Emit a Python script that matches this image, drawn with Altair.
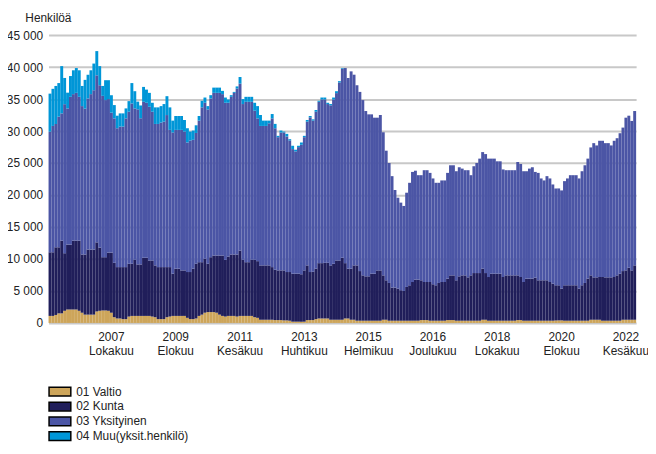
import altair as alt
import pandas as pd

MONTH_NAMES = ["Tammikuu", "Helmikuu", "Maaliskuu", "Huhtikuu", "Toukokuu", "Kesäkuu",
               "Heinäkuu", "Elokuu", "Syyskuu", "Lokakuu", "Marraskuu", "Joulukuu"]
START_YEAR = 2006
N_MONTHS = 201
months = [f"{START_YEAR + k // 12}|{MONTH_NAMES[k % 12]}" for k in range(N_MONTHS)]
label_months = ["2007|Lokakuu", "2009|Elokuu", "2011|Kesäkuu", "2013|Huhtikuu", "2015|Helmikuu",
                "2016|Joulukuu", "2018|Lokakuu", "2020|Elokuu", "2022|Kesäkuu"]

series_names = ["01 Valtio", "02 Kunta", "03 Yksityinen", "04 Muu(yksit.henkilö)"]
series_colors = ["#CDA55A", "#201E5A", "#4B55A5", "#0096D7"]

valtio = [
    1100, 1100, 1250, 1500, 1500, 1900, 2100, 2100, 2100, 2100,
    1900, 1600, 1300, 1300, 1300, 1300, 1800, 1900, 1950, 1950,
    1900, 1600, 900, 700, 700, 600, 600, 1000, 1100, 1100,
    1100, 1100, 1100, 1100, 1100, 1000, 900, 600, 600, 600,
    900, 1000, 1100, 1100, 1100, 1100, 1100, 800, 600, 600,
    700, 1100, 1300, 1600, 1700, 1700, 1700, 1600, 1300, 1100,
    1000, 1100, 1100, 1100, 1000, 1100, 1100, 1100, 1100, 1100,
    900, 800, 500, 500, 500, 500, 500, 450, 450, 450,
    400, 400, 350, 200, 200, 200, 200, 200, 450, 450,
    450, 600, 700, 700, 700, 700, 500, 500, 500, 500,
    500, 700, 700, 500, 500, 350, 350, 350, 350, 350,
    350, 350, 350, 350, 500, 500, 350, 350, 350, 350,
    350, 350, 350, 350, 350, 350, 350, 450, 450, 450,
    350, 350, 350, 350, 350, 350, 450, 450, 450, 350,
    350, 350, 350, 350, 350, 350, 350, 350, 500, 500,
    350, 350, 350, 350, 350, 350, 350, 350, 350, 350,
    450, 450, 350, 350, 350, 350, 350, 350, 350, 350,
    350, 350, 350, 400, 400, 400, 350, 350, 350, 350,
    350, 350, 350, 350, 350, 500, 500, 500, 500, 350,
    350, 350, 350, 350, 350, 350, 500, 500, 500, 500,
    500,
]

kunta = [
    9950, 9950, 10580, 10330, 11370, 9000, 10150, 10150, 10770, 10770,
    10970, 9100, 9400, 10170, 10170, 10170, 10800, 9880, 8330, 8330,
    9100, 9400, 8500, 8030, 8030, 8130, 8130, 8250, 8150, 8770,
    8050, 8050, 9090, 9090, 8670, 8770, 8100, 8130, 8130, 8130,
    7830, 7730, 6600, 7380, 7380, 7120, 7120, 7160, 7360, 7880,
    8550, 8400, 8200, 8430, 7550, 8580, 8840, 8940, 9240, 9440,
    8870, 9290, 9600, 9600, 9700, 10220, 8770, 8400, 8400, 8770,
    8970, 8860, 8500, 8500, 8500, 8500, 8230, 7870, 7770, 7770,
    7820, 7560, 7610, 7500, 7500, 7500, 7400, 8020, 8550, 7510,
    7550, 7880, 8650, 8650, 8700, 8700, 8500, 8750, 9270, 9270,
    9690, 8650, 7780, 7980, 8500, 8650, 7760, 7090, 6940, 6940,
    7350, 7350, 7870, 7870, 6940, 6170, 5900, 5180, 5180, 5030,
    4770, 4650, 5280, 5540, 6050, 6420, 6420, 6220, 5950, 5950,
    6050, 5700, 5540, 5900, 6050, 6050, 6480, 6990, 6990, 6320,
    6940, 7090, 7090, 6780, 7090, 7450, 7450, 7450, 7980, 7300,
    6830, 7350, 7350, 7350, 7350, 6830, 7090, 7090, 7090, 7090,
    6990, 6730, 6050, 6580, 6580, 6580, 6730, 6320, 6320, 6320,
    6320, 6050, 5800, 5490, 5490, 4980, 5540, 5540, 5540, 5540,
    5540, 5030, 5540, 5900, 6580, 6940, 6630, 6630, 6680, 6830,
    6780, 6780, 6780, 6830, 7090, 7350, 7610, 7720, 8130, 7720,
    8500,
]

yksityinen = [
    18850, 19750, 19270, 20420, 19890, 23300, 21290, 23100, 22900, 23100,
    22480, 23200, 22800, 23620, 24300, 24910, 26110, 25380, 25220, 24560,
    24000, 21870, 22580, 21710, 21970, 21970, 23250, 23770, 25060, 23670,
    24250, 22850, 24380, 24230, 24030, 23250, 22110, 22380, 22590, 22740,
    23770, 21450, 22070, 21700, 21700, 21960, 21700, 20260, 20570, 20150,
    20450, 22130, 24200, 24390, 24130, 24810, 25430, 25430, 25430, 25230,
    24550, 24030, 24650, 25270, 25940, 26090, 24350, 25070, 25070, 24700,
    23310, 22320, 21800, 21800, 21800, 22210, 23250, 22120, 20820, 21550,
    21550, 21190, 20570, 19480, 19120, 19790, 20260, 20820, 22470, 24180,
    23630, 24540, 25220, 25590, 25540, 24820, 25020, 25690, 26160, 27830,
    29560, 30500, 29810, 30850, 29810, 28160, 28010, 27400, 25840, 25320,
    24910, 24390, 23870, 24290, 22370, 20260, 18760, 17420, 15250, 14200,
    13690, 13290, 14730, 16020, 17210, 17030, 16330, 16430, 17480, 17480,
    17060, 16540, 16020, 15660, 15880, 15880, 16530, 17210, 17210, 17050,
    17050, 16690, 16440, 16750, 15660, 16700, 17210, 17890, 18230, 18600,
    18510, 17990, 17990, 17570, 17570, 16820, 16440, 16440, 16440, 16440,
    17720, 17670, 17320, 16790, 17200, 17410, 16530, 16790, 15920, 15610,
    16280, 16190, 15500, 15140, 15140, 15340, 16280, 16700, 17210, 17210,
    17210, 17210, 17830, 18400, 18760, 20000, 20980, 20620, 21300, 21300,
    20980, 20980, 20620, 21300, 21440, 21960, 22430, 23870, 23770, 23360,
    24130,
]

muu = [
    5950, 5800, 5950, 5250, 7390, 4100, 2460, 3250, 3730, 3880,
    4150, 3150, 4500, 3710, 3730, 4170, 3790, 2990, 1550, 3110,
    2950, 2730, 2080, 1960, 2060, 2060, 1560, 1660, 3190, 2690,
    1200, 2000, 2330, 2060, 2170, 1400, 2590, 2590, 2580, 2750,
    2950, 3520, 1860, 2170, 2170, 2170, 1810, 2220, 1390, 1450,
    1200, 720, 1030, 820, 520, 520, 820, 820, 820, 510,
    820, 510, 260, 150, 340, 1040, 780, 780, 780, 780,
    1240, 1920, 1710, 830, 830, 420, 680, 680, 210, 310,
    150, 410, 200, 520, 260, 210, 360, 210, 260, 210,
    200, 270, 160, 300, 300, 200, 200, 300, 300, 200,
    100,
] + [0] * 100

series_values = [valtio, kunta, yksityinen, muu]

rows = []
for i, m in enumerate(months):
    for k, name in enumerate(series_names):
        rows.append({"kk": m, "sarja": name, "arvo": series_values[k][i], "jarj": k})
df = pd.DataFrame(rows)

FONT = "Liberation Sans"

chart = alt.Chart(df).mark_bar().encode(
    x=alt.X("kk:O", sort=months,
            scale=alt.Scale(paddingInner=0, paddingOuter=0),
            axis=alt.Axis(values=label_months, labelExpr="split(datum.value, '|')",
                          title=None, ticks=False, domain=False, labelAngle=0,
                          labelFontSize=12, labelPadding=9, labelLineHeight=14,
                          labelFont=FONT, labelColor="#222222",
                          labelOverlap=False, labelBound=False)),
    y=alt.Y("arvo:Q", stack="zero",
            scale=alt.Scale(domain=[0, 45000], nice=False),
            axis=alt.Axis(values=list(range(0, 45001, 5000)),
                          labelExpr="replace(format(datum.value, ','), ',', ' ')",
                          title="Henkilöä", titleAngle=0, titleAlign="left",
                          titleBaseline="alphabetic", titleX=-24, titleY=-14,
                          titleFontSize=12, titleFontWeight="normal", titleFont=FONT,
                          titleColor="#222222",
                          grid=True, gridColor="#c8c8c8", gridWidth=2,
                          ticks=False, domain=False, labelPadding=6,
                          labelFontSize=12, labelFont=FONT, labelColor="#222222")),
    color=alt.Color("sarja:N",
                    scale=alt.Scale(domain=series_names, range=series_colors),
                    legend=alt.Legend(title=None, orient="none", legendX=5, legendY=354,
                                      direction="vertical",
                                      symbolType="M-2,-0.8H2V0.8H-2Z", symbolSize=121,
                                      symbolStrokeColor="black", symbolStrokeWidth=1.5,
                                      symbolOpacity=1,
                                      labelFontSize=12, labelFont=FONT, labelColor="#222222",
                                      labelOffset=10, rowPadding=0)),
    order=alt.Order("jarj:Q", sort="ascending"),
).properties(
    width=594, height=291,
    autosize=alt.AutoSizeParams(type="none"),
    padding={"left": 41, "top": 25, "right": 12, "bottom": 122},
).configure_view(stroke=None)

chart.save("out.html", embed_options={"renderer": "svg", "actions": False})
